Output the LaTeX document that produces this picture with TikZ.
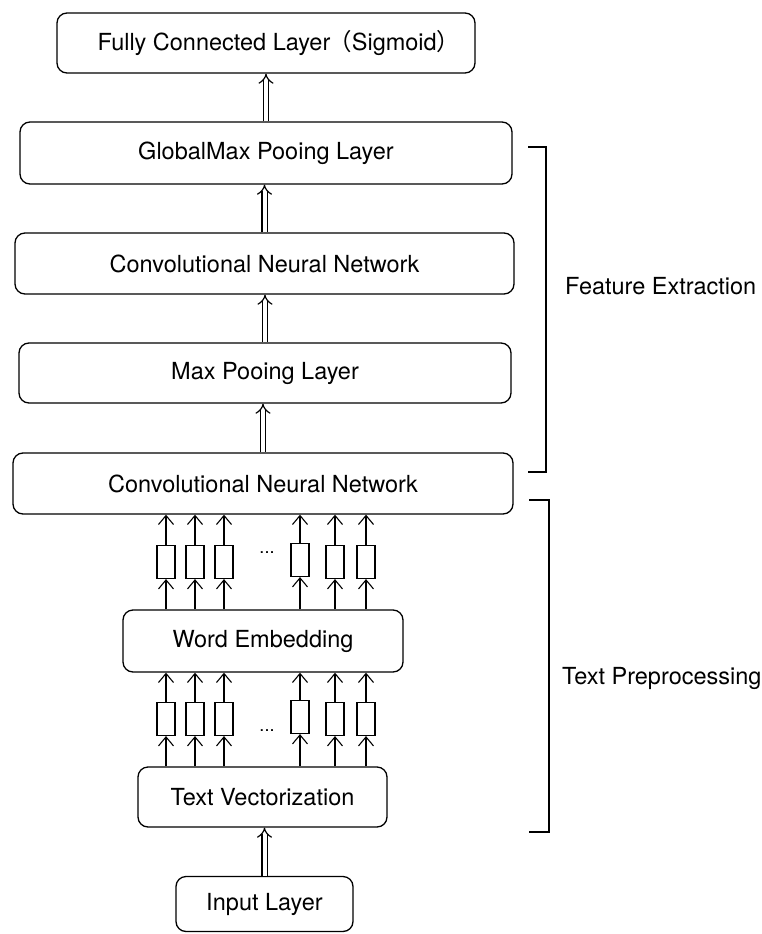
\documentclass[tikz,border=0pt]{standalone}
\usepackage{fontspec}
\setmainfont{TeX Gyre Heros}
\newfontfamily\cjk{Noto Sans CJK SC}
\usetikzlibrary{arrows.meta, positioning, calc}
\tikzset{
    layer/.style={draw, rounded corners=10pt, line width=1.3pt, inner sep=0pt},
    vec/.style={draw, line width=1.1pt, minimum width=18pt, minimum height=33pt, inner sep=0pt},
    thru/.style={double, double distance=4pt, line width=1.2pt, -{Implies}},
    up/.style={line width=1.1pt, -{Straight Barb[length=9pt, width=15pt]}},
    brk/.style={line width=1.3pt},
}

\begin{document}
\begin{tikzpicture}[x=1pt, y=-1pt, font=\fontsize{23.5}{27}\selectfont]
    \useasboundingbox (0,0) rectangle (762,934);

    \node[layer, minimum width=418pt, minimum height=60pt] (fc) at (266,43) {\hspace{26pt}Fully Connected Layer\hspace{-2pt}{\cjk（}Sigmoid{\cjk）}\hspace{-8pt}};
    \node[layer, minimum width=492pt, minimum height=62pt] (gmp) at (266,153) {GlobalMax Pooing Layer};
    \node[layer, minimum width=499pt, minimum height=61pt] (cnnb) at (264.5,263.5) {Convolutional Neural Network};
    \node[layer, minimum width=492pt, minimum height=60pt] (mp) at (265,373) {Max Pooing Layer};
    \node[layer, minimum width=500pt, minimum height=61pt] (cnna) at (263,483.5) {Convolutional Neural Network};
    \node[layer, minimum width=280pt, minimum height=62pt] (we) at (263,641) {Word Embedding};
    \node[layer, minimum width=249pt, minimum height=60pt] (tv) at (262.5,797) {Text Vectorization};
    \node[layer, minimum width=177pt, minimum height=55pt] (in) at (264.5,904) {Input Layer};

    \draw[thru] (in.north) -- (in.north |- tv.south);
    \draw[thru] (cnna.north) -- (cnna.north |- mp.south);
    \draw[thru] (mp.north) -- (mp.north |- cnnb.south);
    \draw[thru] (cnnb.north) -- (cnnb.north |- gmp.south);
    \draw[thru] (gmp.north) -- (gmp.north |- fc.south);

    % word vectors
    \foreach \i/\x/\y in {1/166/562, 2/195/562, 3/224/562, 4/300/560, 5/335/562, 6/366/562} {
      \node[vec] (ea\i) at (\x,\y) {};
      \draw[up] (ea\i |- we.north) -- (ea\i.south);
      \draw[up] (ea\i.north) -- (ea\i |- cnna.south);
    }
    \node[font=\fontsize{18}{20}\selectfont] (dotsa) at (267,553) {...};

    \foreach \i/\x/\y in {1/166/719, 2/195/719, 3/224/719, 4/300/717, 5/335/719, 6/366/719} {
      \node[vec] (eb\i) at (\x,\y) {};
      \draw[up] (eb\i |- tv.north) -- (eb\i.south);
      \draw[up] (eb\i.north) -- (eb\i |- we.south);
    }
    \node[font=\fontsize{18}{20}\selectfont] (dotsb) at (267,731) {...};

    % brackets
    \coordinate (fa) at (528,147);
    \coordinate (fb) at (528,472);
    \draw[brk] (fa) -| ($(fb)+(18,0)$) -- (fb);
    \node[anchor=west, inner sep=0pt] (fe) at (565,286) {Feature Extraction};

    \coordinate (ta) at (529,500);
    \coordinate (tb) at (529,832);
    \draw[brk] (ta) -| ($(tb)+(20,0)$) -- (tb);
    \node[anchor=west, inner sep=0pt] (tp) at (562,678) {Text Preprocessing};
\end{tikzpicture}
\end{document}
